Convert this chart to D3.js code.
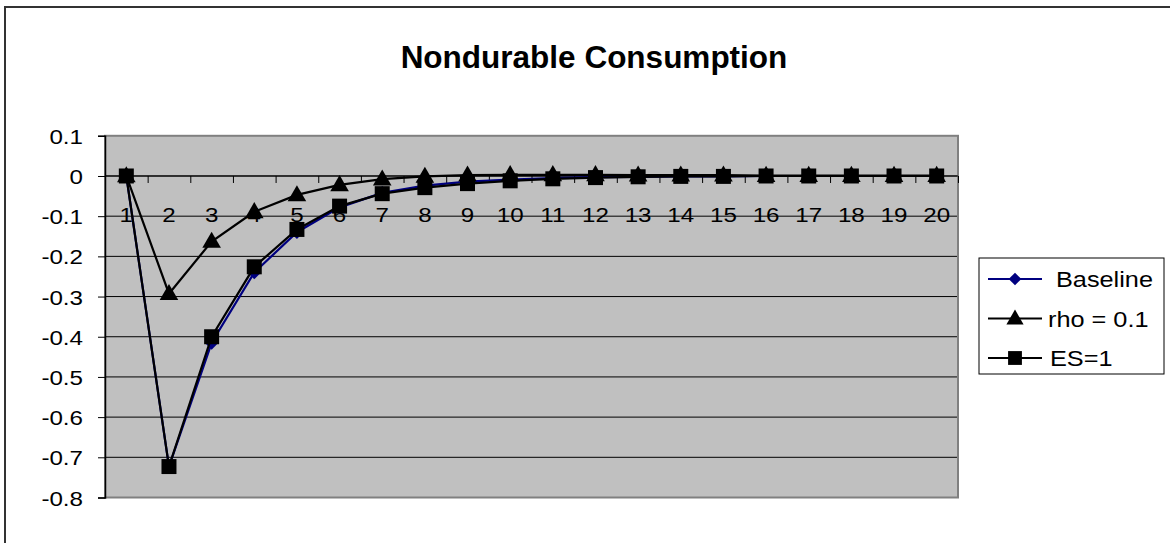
<!DOCTYPE html>
<html>
<head>
<meta charset="utf-8">
<script src="https://cdn.jsdelivr.net/npm/d3@7"></script>
<style>
  html, body { margin: 0; padding: 0; background: #fff; }
  svg { display: block; }
  text { font-family: "Liberation Sans", Arial, sans-serif; fill: #000; }
</style>
</head>
<body>
<svg id="chart" width="1170" height="543"></svg>
<script>
const title = "Nondurable Consumption";
const categories = [1,2,3,4,5,6,7,8,9,10,11,12,13,14,15,16,17,18,19,20];
const baseline = [0, -0.723, -0.415, -0.240, -0.140, -0.078, -0.042, -0.024, -0.014, -0.009, -0.005, -0.003, -0.002, -0.001, -0.001, 0, 0, 0, 0, 0];
const rho01    = [0, -0.293, -0.163, -0.089, -0.047, -0.022, -0.008, -0.001, 0.002, 0.003, 0.003, 0.003, 0.002, 0.002, 0.002, 0.001, 0.001, 0.001, 0.001, 0.001];
const es1      = [0, -0.723, -0.400, -0.226, -0.133, -0.075, -0.044, -0.029, -0.019, -0.012, -0.007, -0.004, -0.002, -0.001, -0.001, 0, 0, 0, 0, 0];
const seriesNames = ["Baseline", "rho = 0.1", "ES=1"];
const yTicks = [0.1, 0, -0.1, -0.2, -0.3, -0.4, -0.5, -0.6, -0.7, -0.8];
const yTickLabels = ["0.1", "0", "-0.1", "-0.2", "-0.3", "-0.4", "-0.5", "-0.6", "-0.7", "-0.8"];

const series = [
  { name: seriesNames[0], values: baseline, color: "#000080", marker: "diamond" },
  { name: seriesNames[1], values: rho01,    color: "#000000", marker: "triangle" },
  { name: seriesNames[2], values: es1,      color: "#000000", marker: "square" }
];

const svg = d3.select("#chart");
const L = 105, R = 958, T = 135.8, B = 497.5;
const SX = 1.15;

const x = d3.scaleLinear().domain([0.5, 20.5]).range([L, R]);
const y = d3.scaleLinear().domain([-0.8, 0.1]).range([B, T]);

// outer chart border
svg.append("rect").attr("x", 5).attr("y", 7).attr("width", 1180).attr("height", 560)
  .attr("fill", "#fff").attr("stroke", "#333").attr("stroke-width", 2);

// title
svg.append("text").attr("x", 594).attr("y", 68).attr("text-anchor", "middle")
  .attr("font-size", 31.5).attr("font-weight", "bold")
  .text(title);

// plot area
svg.append("rect").attr("x", L).attr("y", T).attr("width", R - L).attr("height", B - T)
  .attr("fill", "#c0c0c0");

// gridlines
svg.append("g").selectAll("line").data(yTicks.filter(v => v > -0.8 && v < 0.1)).join("line")
  .attr("x1", L).attr("x2", R).attr("y1", d => y(d)).attr("y2", d => y(d))
  .attr("stroke", "#000").attr("stroke-width", 1);

// plot border (gray)
svg.append("rect").attr("x", L).attr("y", T).attr("width", R - L).attr("height", B - T)
  .attr("fill", "none").attr("stroke", "#808080").attr("stroke-width", 2);

// y axis
const yAxis = svg.append("g").attr("transform", `translate(${L},0)`)
  .call(d3.axisLeft(y).tickValues(yTicks).tickSize(7).tickFormat((d, i) => yTickLabels[i]));
yAxis.select(".domain").attr("stroke", "#000").attr("stroke-width", 1.5);
yAxis.selectAll(".tick line").attr("stroke", "#000");
yAxis.selectAll(".tick text")
  .attr("x", null).attr("dy", null)
  .attr("font-size", 21).attr("font-family", "Liberation Sans, Arial, sans-serif")
  .attr("fill", "#000").attr("text-anchor", "end")
  .attr("transform", `translate(-22,7.5) scale(${SX},1)`);

// x axis at zero: boundary ticks
const xAxis = svg.append("g").attr("transform", `translate(0,${y(0)})`)
  .call(d3.axisBottom(x).tickValues(d3.range(0.5, 21, 1)).tickSize(7).tickFormat(""));
xAxis.select(".domain").attr("stroke", "#000").attr("stroke-width", 1.2).attr("d", `M${L},0H${R}`);
xAxis.selectAll(".tick line").attr("stroke", "#000");

// x labels
svg.append("g").selectAll("text").data(categories).join("text")
  .attr("text-anchor", "middle").attr("font-size", 21)
  .attr("transform", d => `translate(${x(d)},${y(0) + 46}) scale(${SX},1)`)
  .text(d => d);

// lines
const line = d3.line().x((d, i) => x(categories[i])).y(d => y(d));
function markerPath(type, size) {
  if (type === "diamond") return d3.symbol(d3.symbolDiamond2, size)();
  if (type === "triangle") return d3.symbol(d3.symbolTriangle, size)();
  return d3.symbol(d3.symbolSquare, size)();
}
const mSize = { diamond: 120, triangle: 150, square: 225 };

series.forEach(s => {
  svg.append("path").attr("d", line(s.values)).attr("fill", "none")
    .attr("stroke", s.color).attr("stroke-width", 2.2);
  svg.append("g").selectAll("path").data(s.values).join("path")
    .attr("d", markerPath(s.marker, mSize[s.marker]))
    .attr("transform", (d, i) => `translate(${x(categories[i])},${y(d) + (s.marker === "triangle" ? 1 : 0)})`)
    .attr("fill", s.color);
});

// legend
const lg = svg.append("g");
lg.append("rect").attr("x", 979).attr("y", 258).attr("width", 185).attr("height", 116)
  .attr("fill", "#fff").attr("stroke", "#000").attr("stroke-width", 1);
const legendY = d3.scalePoint().domain(seriesNames).range([279, 358]);
const textOffsets = [1056, 1048, 1050];
series.forEach((s, i) => {
  const yy = legendY(s.name);
  lg.append("line").attr("x1", 988).attr("x2", 1042).attr("y1", yy).attr("y2", yy)
    .attr("stroke", s.color).attr("stroke-width", 2.2);
  lg.append("path").attr("d", markerPath(s.marker, mSize[s.marker] * 0.85))
    .attr("transform", `translate(1015,${yy + (s.marker === "triangle" ? 1 : 0)})`)
    .attr("fill", s.color);
  lg.append("text").attr("font-size", 22)
    .attr("transform", `translate(${textOffsets[i]},${yy + 8}) scale(1.15,1)`)
    .text(s.name);
});
</script>
</body>
</html>
